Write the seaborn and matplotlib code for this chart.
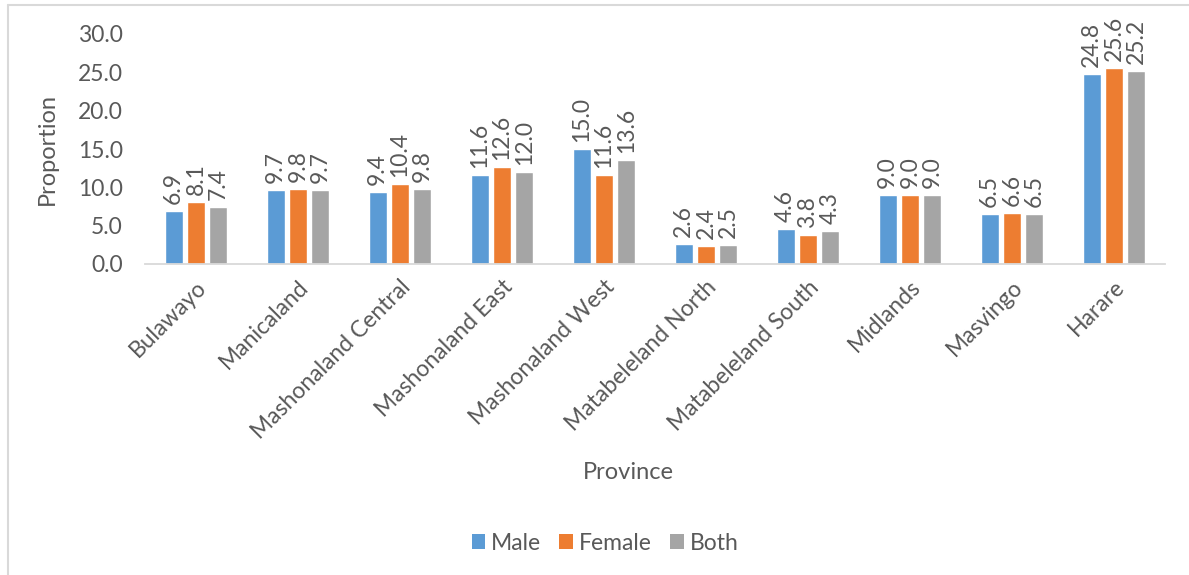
import matplotlib
matplotlib.use("Agg")
import matplotlib.pyplot as plt
import seaborn as sns
import pandas as pd
from matplotlib.patches import Patch
from matplotlib.lines import Line2D

provinces = ["Bulawayo", "Manicaland", "Mashonaland Central", "Mashonaland East",
             "Mashonaland West", "Matabeleland North", "Matabeleland South",
             "Midlands", "Masvingo", "Harare"]
male = [6.9, 9.7, 9.4, 11.6, 15.0, 2.6, 4.6, 9.0, 6.5, 24.8]
female = [8.1, 9.8, 10.4, 12.6, 11.6, 2.4, 3.8, 9.0, 6.6, 25.6]
both = [7.4, 9.7, 9.8, 12.0, 13.6, 2.5, 4.3, 9.0, 6.5, 25.2]
series = ["Male", "Female", "Both"]
yticks = [0, 5, 10, 15, 20, 25, 30]

df = pd.DataFrame({
    "Province": provinces * 3,
    "Series": ["Male"] * 10 + ["Female"] * 10 + ["Both"] * 10,
    "Proportion": male + female + both,
})

sns.set_theme(style="white")
plt.rcParams["font.family"] = ["Lato", "DejaVu Sans"]
TXT = "#595959"
colors = ["#5B9BD5", "#ED7D31", "#A5A5A5"]
FS = 16.5

fig = plt.figure(figsize=(11.89, 5.75), dpi=100)
ax = fig.add_axes([145 / 1189, 1 - 264 / 575, 1020 / 1189, 230 / 575])

sns.barplot(data=df, x="Province", y="Proportion", hue="Series", hue_order=series,
            palette=colors, width=0.66, gap=0.2, ax=ax, legend=False,
            saturation=1, errorbar=None)

for cont in ax.containers:
    ax.bar_label(cont, fmt="%.1f", rotation=90, padding=5, fontsize=FS, color=TXT)

ax.set_ylim(0, 30)
ax.set_xlim(-0.5, 9.5)
ax.set_yticks(yticks)
ax.set_yticklabels([f"{v:.1f}" for v in yticks], fontsize=FS, color=TXT)
ax.set_xticks(range(len(provinces)))
ax.set_xticklabels(provinces, rotation=45, ha="right", rotation_mode="anchor",
                   fontsize=FS, color=TXT)
ax.tick_params(axis="x", length=0, pad=9)
ax.tick_params(axis="y", length=0, pad=16)
for s in ["top", "right", "left"]:
    ax.spines[s].set_visible(False)
ax.spines["bottom"].set_color("#D9D9D9")
ax.spines["bottom"].set_linewidth(1.3)

ax.set_ylabel("Proportion", fontsize=FS + 0.5, color=TXT)
ax.yaxis.set_label_coords((58 - 145) / 1020, 0.5)
ax.set_xlabel("Province", fontsize=FS + 0.5, color=TXT, va="center")
ax.xaxis.set_label_coords((628 - 145) / 1020, -(473 - 264) / 230)

handles = [Patch(facecolor=c, edgecolor="none") for c in colors]
fig.legend(handles, series, loc="center", bbox_to_anchor=(605 / 1189, 1 - 543 / 575),
           ncol=3, frameon=False, fontsize=FS, handlelength=0.6, handleheight=0.6,
           handletextpad=0.25, columnspacing=0.8, labelcolor=TXT)

# chart border (left and top edges visible)
fig.add_artist(Line2D([8 / 1189, 8 / 1189], [0, 1 - 5 / 575], transform=fig.transFigure,
                      color="#D9D9D9", lw=1.5))
fig.add_artist(Line2D([8 / 1189, 1], [1 - 5 / 575, 1 - 5 / 575], transform=fig.transFigure,
                      color="#D9D9D9", lw=1.5))

fig.savefig("out.png", dpi=100, facecolor="white")
